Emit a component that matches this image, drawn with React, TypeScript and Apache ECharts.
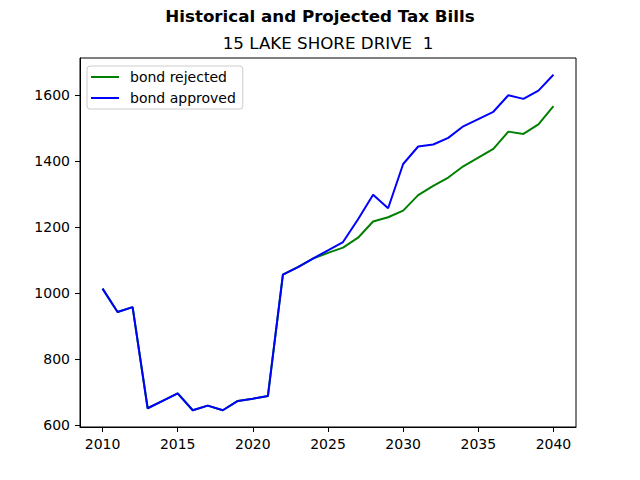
import React, { useEffect, useRef } from 'react';
import * as echarts from 'echarts';

const years = Array.from({ length: 31 }, (_, i) => 2010 + i);
const bondRejected = [
  1014, 943, 958, 652, 674, 697, 646, 660, 646, 674, 681, 689, 1056, 1079, 1105, 1122,
  1138, 1168, 1217, 1230, 1250, 1297, 1325, 1350, 1384, 1410, 1437, 1489, 1482, 1511, 1566,
];
const bondApproved = [
  1014, 943, 958, 652, 674, 697, 646, 660, 646, 674, 681, 689, 1056, 1079, 1105, 1130,
  1155, 1224, 1298, 1257, 1391, 1444, 1450, 1470, 1505, 1527, 1549, 1599, 1588, 1613, 1661,
];
const xTicks = [2010, 2015, 2020, 2025, 2030, 2035, 2040];
const yTicks = [600, 800, 1000, 1200, 1400, 1600];

const FONT = 'DejaVu Sans';
// flat bar so the legend shows a plain line, like matplotlib
const LINE_ICON = 'path://M0,0 L28,0 L28,2 L0,2 Z';

const App = () => {
  const chartRef = useRef<HTMLDivElement>(null);

  useEffect(() => {
    if (!chartRef.current) return;
    const chart = echarts.init(chartRef.current, null, { renderer: 'svg' });

    // matplotlib-like 5% margins
    const all = [...bondRejected, ...bondApproved];
    const yLo = Math.min(...all);
    const yHi = Math.max(...all);
    const yPad = (yHi - yLo) * 0.05;
    const xPad = (years[years.length - 1] - years[0]) * 0.05;

    const axisCommon = {
      axisLine: { show: true, lineStyle: { color: '#000', width: 1 } },
      axisTick: { show: true, length: 5, lineStyle: { color: '#000', width: 1 } },
      splitLine: { show: false },
    };
    const labelCommon = {
      margin: 10,
      fontFamily: FONT,
      fontSize: 14,
      color: '#000',
      formatter: (v: number) => String(v),
    };

    const option: echarts.EChartsOption = {
      animation: false,
      textStyle: { fontFamily: FONT },
      title: [
        {
          text: 'Historical and Projected Tax Bills',
          left: 320,
          top: 7,
          padding: 0,
          textAlign: 'center',
          textStyle: { fontFamily: FONT, fontSize: 16.7, fontWeight: 'bold', color: '#000' },
        },
        {
          text: '15 LAKE SHORE DRIVE  1',
          left: 328,
          top: 34,
          padding: 0,
          textAlign: 'center',
          textStyle: { fontFamily: FONT, fontSize: 16.7, fontWeight: 'normal', color: '#000' },
        },
      ],
      legend: {
        orient: 'vertical',
        left: 87,
        top: 66,
        padding: [4, 7, 4, 4],
        itemWidth: 28,
        itemHeight: 14,
        itemGap: 7,
        icon: LINE_ICON,
        backgroundColor: '#fff',
        borderColor: '#cccccc',
        borderWidth: 1,
        borderRadius: 3,
        textStyle: { fontFamily: FONT, fontSize: 14, color: '#000', padding: [0, 0, 0, 6] },
        data: ['bond rejected', 'bond approved'],
      },
      grid: {
        left: 80,
        right: 64,
        top: 58,
        bottom: 53,
        show: true,
        borderColor: '#000',
        borderWidth: 1,
        backgroundColor: 'transparent',
      },
      xAxis: {
        type: 'value',
        min: years[0] - xPad,
        max: years[years.length - 1] + xPad,
        ...axisCommon,
        axisTick: { ...axisCommon.axisTick, customValues: xTicks },
        axisLabel: { ...labelCommon, customValues: xTicks },
      },
      yAxis: {
        type: 'value',
        min: yLo - yPad,
        max: yHi + yPad,
        ...axisCommon,
        axisTick: { ...axisCommon.axisTick, customValues: yTicks },
        axisLabel: { ...labelCommon, customValues: yTicks },
      },
      series: [
        {
          name: 'bond rejected',
          type: 'line',
          symbol: 'none',
          data: years.map((y, i) => [y, bondRejected[i]]),
          lineStyle: { color: '#008000', width: 2 },
          itemStyle: { color: '#008000' },
        },
        {
          name: 'bond approved',
          type: 'line',
          symbol: 'none',
          data: years.map((y, i) => [y, bondApproved[i]]),
          lineStyle: { color: '#0000ff', width: 2 },
          itemStyle: { color: '#0000ff' },
        },
      ],
    };

    chart.setOption(option);
    return () => {
      chart.dispose();
    };
  }, []);

  return (
    <div
      ref={chartRef}
      style={{ position: 'absolute', left: 0, top: 0, width: '640px', height: '480px', background: '#fff' }}
    />
  );
};

export default App;
